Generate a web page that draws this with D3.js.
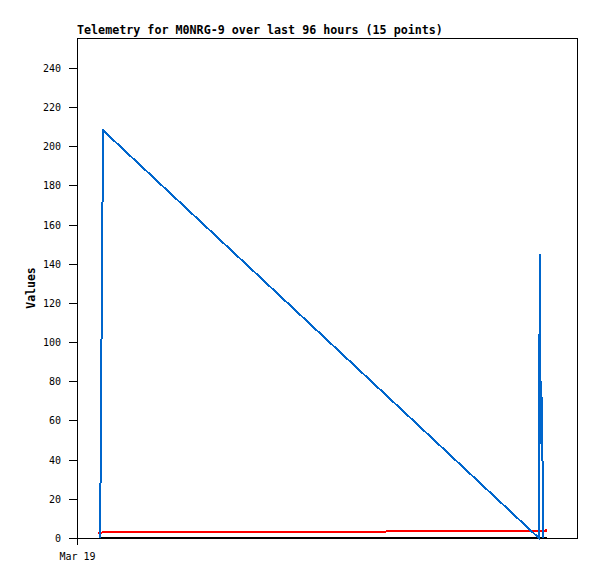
<!DOCTYPE html>
<html>
<head>
<meta charset="utf-8">
<script src="https://cdn.jsdelivr.net/npm/d3@7/dist/d3.min.js"></script>
<style>
  body { margin: 0; background: #fff; }
  svg { display: block; }
  text { font-family: "DejaVu Sans Mono", "Liberation Mono", monospace; fill: #000; }
</style>
</head>
<body>
<script>
// telemetry values
var day = "2024-03-19T";

var blueTimes  = ["00:55:41", "00:56:38", "00:58:55", "01:01:19", "01:03:07", "18:28:19", "18:30:43", "18:32:38", "18:34:34", "18:36:14", "18:38:24"];
var blueValues = [0, 35, 104, 174, 208, 0, 145, 72, 48, 72, 0];

var redTimes  = ["00:50:00", "18:45:00", "18:47:00"];
var redValues = [2.8, 3.6, 4.8];

var blackTimes  = ["00:54:00", "18:47:00"];
var blackValues = [0, 0];

var yTicks = [0, 20, 40, 60, 80, 100, 120, 140, 160, 180, 200, 220, 240];
var xTickLabels = ["Mar 19"];
var xTickTimes = ["00:00:00"];

var width = 597, height = 579;
var margin = {top: 38, right: 20, bottom: 41, left: 77};

var parse = d3.isoParse;
function toDate(t) { return parse(day + t); }

var x = d3.scaleTime()
    .domain([toDate("00:00:00"), toDate("20:00:00")])
    .range([margin.left, width - margin.right]);

var y = d3.scaleLinear()
    .domain([0, 255.3])
    .range([height - margin.bottom, margin.top]);

var svg = d3.select("body").append("svg")
    .attr("width", width)
    .attr("height", height);

// title
svg.append("text")
    .attr("x", margin.left)
    .attr("y", 34)
    .style("font-size", "11.7px")
    .style("font-weight", "bold")
    .text("Telemetry for M0NRG-9 over last 96 hours (15 points)");

// y axis label
svg.append("text")
    .attr("transform", "translate(35," + (margin.top + height - margin.bottom) / 2 + ") rotate(-90)")
    .attr("text-anchor", "middle")
    .style("font-size", "11.5px")
    .style("font-weight", "bold")
    .text("Values");

// y axis
var yAxis = svg.append("g")
    .attr("transform", "translate(" + margin.left + ",0)")
    .call(d3.axisLeft(y).tickValues(yTicks).tickSize(8).tickPadding(8).tickFormat(d3.format("d")));
yAxis.select(".domain").remove();
yAxis.selectAll("line").attr("shape-rendering", "crispEdges");
yAxis.selectAll("text").style("font-size", "10px").attr("dy", "0.35em");

// x axis (only the day tick)
var xAxis = svg.append("g")
    .attr("transform", "translate(0," + (height - margin.bottom) + ")")
    .call(d3.axisBottom(x)
        .tickValues(xTickTimes.map(toDate))
        .tickSize(7).tickPadding(8)
        .tickFormat(function(d, i) { return xTickLabels[i]; }));
xAxis.select(".domain").remove();
xAxis.selectAll("line").attr("shape-rendering", "crispEdges");
xAxis.selectAll("text").style("font-size", "10px");

// frame
svg.append("rect")
    .attr("x", margin.left + 0.5)
    .attr("y", margin.top + 0.5)
    .attr("width", width - margin.left - margin.right)
    .attr("height", height - margin.top - margin.bottom)
    .attr("fill", "none")
    .attr("stroke", "#000")
    .attr("stroke-width", 1)
    .attr("shape-rendering", "crispEdges");

var line = d3.line()
    .x(function(d) { return x(d[0]); })
    .y(function(d) { return y(d[1]); });

function series(times, values, color) {
    var pts = times.map(function(t, i) { return [toDate(t), values[i]]; });
    svg.append("path")
        .datum(pts)
        .attr("d", line)
        .attr("fill", "none")
        .attr("stroke", color)
        .attr("stroke-width", 2)
        .attr("stroke-linejoin", "miter")
        .attr("shape-rendering", "crispEdges");
}

series(blackTimes, blackValues, "#000000");
series(redTimes, redValues, "#ff0000");
series(blueTimes, blueValues, "#0066cc");
</script>
</body>
</html>
